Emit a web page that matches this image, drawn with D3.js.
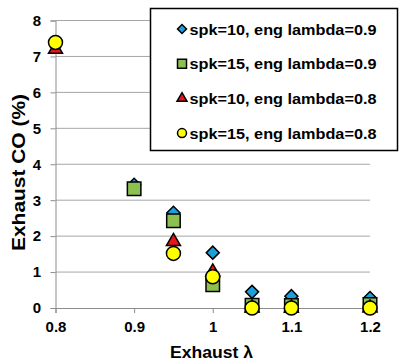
<!DOCTYPE html>
<html>
<head>
<meta charset="utf-8">
<script src="https://cdn.jsdelivr.net/npm/d3@7"></script>
<style>
body { margin: 0; background: #fff; }
text { font-family: "Liberation Sans", Arial, sans-serif; font-weight: bold; }
</style>
</head>
<body>
<svg id="chart" width="399" height="362"></svg>
<script>
var xTicks = [0.8, 0.9, 1, 1.1, 1.2];
var yTicks = [0, 1, 2, 3, 4, 5, 6, 7, 8];
var seriesNames = ['spk=10, eng lambda=0.9', 'spk=15, eng lambda=0.9', 'spk=10, eng lambda=0.8', 'spk=15, eng lambda=0.8'];
var lambda1 = [0.9, 0.95, 1, 1.05, 1.1, 1.2];
var co1 = [3.43, 2.65, 1.54, 0.45, 0.33, 0.28];
var lambda2 = [0.9, 0.95, 1, 1.05, 1.1, 1.2];
var co2 = [3.32, 2.43, 0.65, 0.08, 0.07, 0.1];
var lambda3 = [0.8, 0.95, 1, 1.05, 1.1, 1.2];
var co3 = [7.2, 1.85, 1.0, 0, 0, 0];
var lambda4 = [0.8, 0.95, 1, 1.05, 1.1, 1.2];
var co4 = [7.39, 1.52, 0.87, 0, 0, 0];
var fills = ['#1e9fdb', '#8cc152', '#e8161b', '#ffff00'];

// marker path for a series, w = approx width in px
function marker(i, w) {
    if (i == 0) return d3.symbol().type(d3.symbolSquare).size(w * w / 2)();
    if (i == 1) return d3.symbol().type(d3.symbolSquare).size(w * w)();
    if (i == 2) return d3.symbol().type(d3.symbolTriangle).size(w * w * Math.sqrt(3) / 4)();
    return d3.symbol().type(d3.symbolCircle).size(Math.PI * w * w / 4)();
}

var svg = d3.select('#chart');
var x = d3.scaleLinear().domain([0.8, 1.2]).range([55.5, 370]);
var y = d3.scaleLinear().domain([0, 8]).range([308, 20.5]);

// gridlines
svg.append('g').selectAll('line').data(yTicks.slice(1)).enter().append('line')
    .attr('x1', x(0.8)).attr('x2', x(1.2))
    .attr('y1', d => y(d)).attr('y2', d => y(d))
    .attr('stroke', '#a6a6a6').attr('stroke-width', 1);

var yAxis = svg.append('g').attr('transform', 'translate(' + x(0.8) + ',0)')
    .call(d3.axisLeft(y).tickValues(yTicks).tickSize(5).tickPadding(9.5));
var xAxis = svg.append('g').attr('transform', 'translate(0,' + y(0) + ')')
    .call(d3.axisBottom(x).tickValues(xTicks).tickFormat(d3.format('')).tickSize(5).tickPadding(8.5));
[yAxis, xAxis].forEach(function(a) {
    a.select('.domain').attr('stroke', '#8c8c8c');
    a.selectAll('.tick line').attr('stroke', '#8c8c8c');
    a.selectAll('.tick text').attr('font-size', 15).attr('fill', '#000')
        .attr('font-family', '"Liberation Sans", Arial, sans-serif').attr('font-weight', 'bold');
});

var sets = [[lambda1, co1], [lambda2, co2], [lambda3, co3], [lambda4, co4]];
var widths = [13, 13.5, 14, 14];
sets.forEach(function(s, i) {
    var pts = s[0].map((l, j) => ({l: l, c: s[1][j]}));
    svg.append('g').selectAll('path').data(pts).enter().append('path')
        .attr('d', marker(i, widths[i]))
        .attr('transform', d => 'translate(' + x(d.l) + ',' + y(d.c) + ')' + (i == 0 ? ' rotate(45)' : ''))
        .attr('fill', fills[i]).attr('stroke', '#000').attr('stroke-width', 1.5);
});

// axis titles
svg.append('text').attr('x', 170).attr('y', 358)
    .attr('font-size', 17).attr('textLength', 83).attr('lengthAdjust', 'spacingAndGlyphs')
    .text('Exhaust λ');
svg.append('text').attr('transform', 'translate(25,251) rotate(-90)')
    .attr('font-size', 18).attr('textLength', 157).attr('lengthAdjust', 'spacingAndGlyphs')
    .text('Exhaust CO (%)');

// legend
var leg = svg.append('g');
leg.append('rect').attr('x', 150.5).attr('y', 8.5).attr('width', 247).attr('height', 142)
    .attr('fill', '#fff').attr('stroke', '#000').attr('stroke-width', 1.5);
seriesNames.forEach(function(n, i) {
    var ly = 29 + i * 34.7;
    leg.append('path').attr('d', marker(i, i == 2 ? 10 : 9))
        .attr('transform', 'translate(182,' + ly + ')' + (i == 0 ? ' rotate(45)' : ''))
        .attr('fill', fills[i]).attr('stroke', '#000').attr('stroke-width', 1.5);
    leg.append('text').attr('x', 189.5).attr('y', ly + 5.5).attr('font-size', 15)
        .attr('textLength', 187).attr('lengthAdjust', 'spacingAndGlyphs').text(n);
});
</script>
</body>
</html>
